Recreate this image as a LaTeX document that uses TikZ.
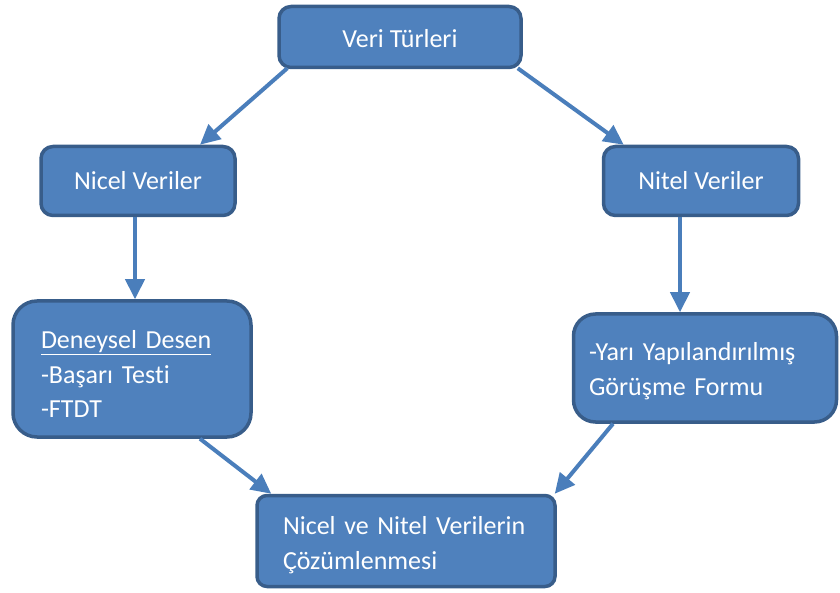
\documentclass[tikz,border=0pt]{standalone}
\usepackage{fontspec}
\setmainfont{Carlito}[Ligatures=NoCommon]
\usetikzlibrary{arrows.meta,calc}
\definecolor{boxfill}{HTML}{4F81BD}
\definecolor{boxline}{HTML}{385D8A}
\definecolor{arrowc}{HTML}{4A7EBB}
\tikzset{
  box/.style={draw=boxline,line width=3.5pt,fill=boxfill,inner sep=0pt},
  lbl/.style={text=white,font=\fontsize{26}{34.5}\selectfont,inner sep=0pt},
  conn/.style={draw=arrowc,line width=4pt,-{Triangle[length=20pt,width=19pt]}}
}
\begin{document}
\begin{tikzpicture}[x=1pt,y=-1pt]
\useasboundingbox (0,0) rectangle (840,593);
\node[box,rounded corners=12pt,minimum width=242pt,minimum height=61pt] (veri) at (400,37) {};
\node[box,rounded corners=12pt,minimum width=194pt,minimum height=69pt] (nicel) at (138,181) {};
\node[box,rounded corners=12pt,minimum width=195pt,minimum height=69pt] (nitel) at (701,181) {};
\node[box,rounded corners=24pt,minimum width=238pt,minimum height=136pt] (deney) at (132,369) {};
\node[box,rounded corners=22pt,minimum width=263pt,minimum height=108pt] (yari) at (705,368) {};
\node[box,rounded corners=10pt,minimum width=298pt,minimum height=91pt] (coz) at (406,541) {};
\node[lbl] (tveri) at ($(veri.center)+(0,2)$) {Veri Türleri};
\node[lbl] (tnicel) at ($(nicel.center)+(0,0)$) {Nicel Veriler};
\node[lbl] (tnitel) at ($(nitel.center)+(0,0)$) {Nitel Veriler};
\node[lbl,text width=182pt,align=left] (tdeney) at ($(deney.center)+(0,5)$) {\underline{Deneysel Desen}\\-Başarı Testi\\-FTDT};
\node[lbl,text width=232pt,align=left] (tyari) at ($(yari.center)+(0,3)$) {-Yarı Yapılandırılmış\\Görüşme Formu};
\node[lbl,text width=246pt,align=left] (tcoz) at ($(coz.center)+(0,4)$) {Nicel ve Nitel Verilerin\\Çözümlenmesi};
\draw[conn] ($(veri.south west)+(10,-1)$) -- ($(nicel.north)+(62,0)$);
\draw[conn] ($(veri.south east)+(-5,-1)$) -- ($(nitel.north west)+(22,0)$);
\draw[conn] ($(nicel.south)+(-3,0)$) -- ($(deney.north)+(3,0)$);
\draw[conn] ($(nitel.south)+(-21,0)$) -- ($(yari.north)+(-25,0)$);
\draw[conn] ($(deney.south)+(68,0)$) -- ($(coz.north west)+(16,0)$);
\draw[conn] ($(yari.south)+(-92,0)$) -- ($(coz.north east)+(-2,0)$);
\end{tikzpicture}
\end{document}
